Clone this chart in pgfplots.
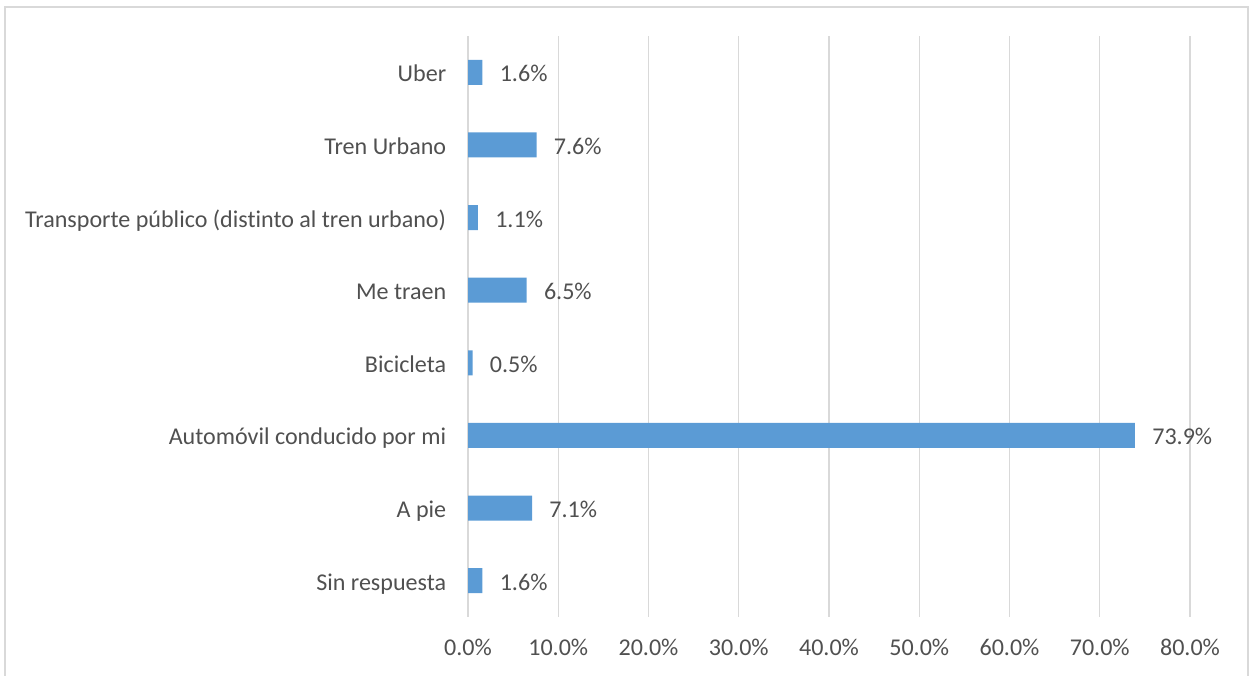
\documentclass[border=0pt]{standalone}
\usepackage{fontspec}
\setmainfont{Carlito}[Ligatures={NoCommon}]
\usepackage{pgfplots}
\pgfplotsset{compat=1.18}
\definecolor{barblue}{RGB}{91,155,213}
\definecolor{gridgray}{RGB}{217,217,217}
\definecolor{textgray}{RGB}{80,80,80}

\begin{document}
\fontsize{13.7}{16.4}\selectfont
\begin{tikzpicture}
\useasboundingbox (0,0) rectangle (25cm,13.52cm);
% chart frame (bottom edge lies off the page)
\draw[gridgray, line width=0.6pt] (0.1cm,-0.2cm) -- (0.1cm,13.38cm) -- (24.96cm,13.38cm) -- (24.96cm,-0.2cm);

\begin{axis}[
    at={(9.36cm,1.18cm)},
    anchor=south west,
    width=14.44cm,
    height=11.62cm,
    scale only axis,
    xbar,
    bar width=0.5cm,
    bar shift=0pt,
    xmin=0, xmax=80,
    ymin=-0.5, ymax=7.5,
    clip=false,
    axis line style={draw=none},
    tick style={draw=none},
    xmajorgrids,
    grid style={gridgray, line width=0.75pt},
    xtick={0,10,...,80},
    ytick={0,...,7},
    yticklabels={Sin respuesta, A pie, Automóvil conducido por mi, Bicicleta, Me traen, Transporte público (distinto al tren urbano), Tren Urbano, Uber},
    /pgf/number format/assume math mode=true,
    xticklabel={\pgfmathprintnumber[fixed,fixed zerofill,precision=1]{\tick}\%},
    ticklabel style={text=textgray},
    yticklabel style={anchor=base east, inner sep=0pt, xshift=-0.28cm, yshift=-0.19cm},
    xticklabel style={anchor=base, inner sep=0pt, yshift=-0.78cm},
    point meta=x,
    nodes near coords={\pgfmathprintnumber[fixed,fixed zerofill,precision=1]{\pgfplotspointmeta}\%},
    nodes near coords style={anchor=base west, inner sep=0pt, xshift=0.34cm, yshift=-0.19cm, text=textgray},
]
\addplot[fill=barblue, draw=none] coordinates {
    (1.6,0) (7.1,1) (73.9,2) (0.5,3) (6.5,4) (1.1,5) (7.6,6) (1.6,7)
};
\end{axis}
\end{tikzpicture}
\end{document}
